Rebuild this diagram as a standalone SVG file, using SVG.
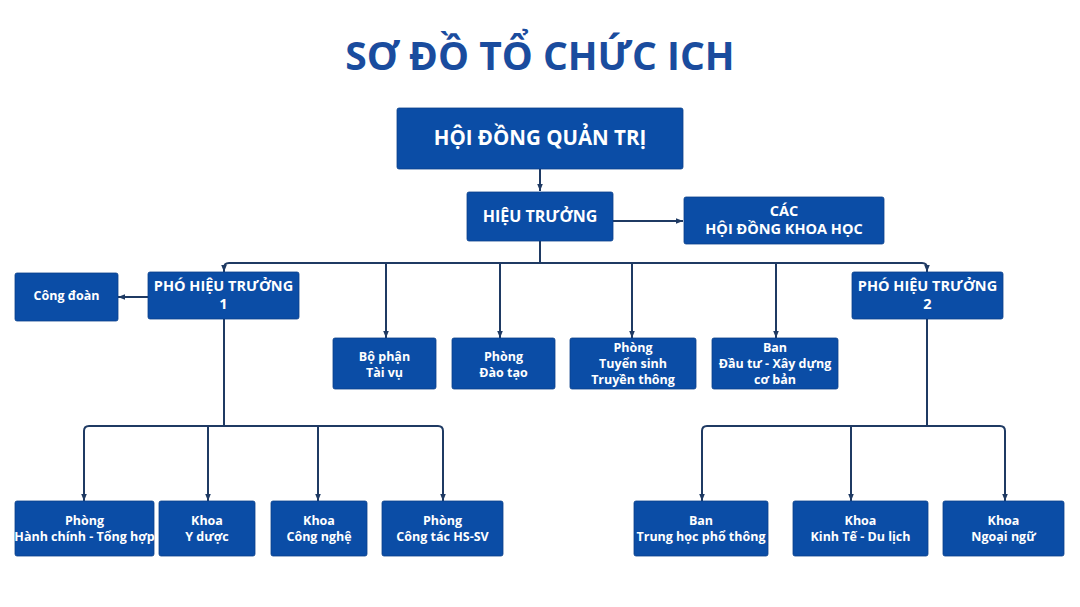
<svg xmlns="http://www.w3.org/2000/svg" width="1080" height="607" viewBox="0 0 1080 607">
<defs>
<style>
.box{fill:#0b4da6;stroke:#0a3f8a;stroke-width:0.8}
.t{font-family:"Open Sans","Liberation Sans",sans-serif;font-weight:700;fill:#ffffff;text-anchor:middle}
.s{font-size:12.5px}
.m{font-size:14.5px}
.c{fill:none;stroke:#1f3a63;stroke-width:2}
</style>
<marker id="ah" viewBox="0 0 10 10" refX="10" refY="5" markerWidth="7" markerHeight="7" markerUnits="userSpaceOnUse" orient="auto">
<path d="M0,1 L10,5 L0,9 z" fill="#1f3a63"/>
</marker>
</defs>
<rect width="1080" height="607" fill="#ffffff"/>
<text x="540" y="70" font-family="'Open Sans','Liberation Sans',sans-serif" font-weight="700" font-size="39" fill="#1a4c9e" text-anchor="middle">SƠ ĐỒ TỔ CHỨC ICH</text>

<g id="connectors">
<path class="c" d="M540,169 V191" marker-end="url(#ah)"/>
<path class="c" d="M613,221 H683" marker-end="url(#ah)"/>
<path class="c" d="M540,241 V263 H229 Q224,263 224,268 V272" marker-end="url(#ah)"/>
<path class="c" d="M540,263 H922 Q927,263 927,268 V272" marker-end="url(#ah)"/>
<path class="c" d="M386,263 V338" marker-end="url(#ah)"/>
<path class="c" d="M500,263 V338" marker-end="url(#ah)"/>
<path class="c" d="M632,263 V338" marker-end="url(#ah)"/>
<path class="c" d="M776,263 V338" marker-end="url(#ah)"/>
<path class="c" d="M148,297 H118" marker-end="url(#ah)"/>
<path class="c" d="M224,319 V426 H89 Q84,426 84,431 V501" marker-end="url(#ah)"/>
<path class="c" d="M224,426 H438 Q443,426 443,431 V501" marker-end="url(#ah)"/>
<path class="c" d="M208,426 V501" marker-end="url(#ah)"/>
<path class="c" d="M318,426 V501" marker-end="url(#ah)"/>
<path class="c" d="M927,319 V426 H707 Q702,426 702,431 V501" marker-end="url(#ah)"/>
<path class="c" d="M927,426 H1000 Q1005,426 1005,431 V501" marker-end="url(#ah)"/>
<path class="c" d="M851,426 V501" marker-end="url(#ah)"/>
</g>

<g id="hdqt"><rect class="box" x="397" y="108" width="286" height="61" rx="2"/><text class="t" x="540" y="145" font-size="20.5">HỘI ĐỒNG QUẢN TRỊ</text></g>
<g id="hieutruong"><rect class="box" x="467" y="192" width="146" height="49" rx="2"/><text class="t" x="540" y="222" font-size="16">HIỆU TRƯỞNG</text></g>
<g id="cac-hdkh"><rect class="box" x="684" y="197" width="200" height="47" rx="2"/><text class="t m" x="784" y="216">CÁC</text><text class="t m" x="784" y="234">HỘI ĐỒNG KHOA HỌC</text></g>
<g id="pht1"><rect class="box" x="148" y="272" width="151" height="47" rx="2"/><text class="t m" x="223.5" y="291">PHÓ HIỆU TRƯỞNG</text><text class="t m" x="223.5" y="309">1</text></g>
<g id="congdoan"><rect class="box" x="15" y="273" width="103" height="48" rx="2"/><text class="t s" x="66.5" y="300">Công đoàn</text></g>
<g id="taivu"><rect class="box" x="333" y="338" width="103" height="51" rx="2"/><text class="t s" x="384.5" y="360.5">Bộ phận</text><text class="t s" x="384.5" y="376.5">Tài vụ</text></g>
<g id="daotao"><rect class="box" x="452" y="338" width="103" height="51" rx="2"/><text class="t s" x="503.5" y="360.5">Phòng</text><text class="t s" x="503.5" y="376.5">Đào tạo</text></g>
<g id="tuyensinh"><rect class="box" x="570" y="338" width="126" height="51" rx="2"/><text class="t s" x="633" y="351.5">Phòng</text><text class="t s" x="633" y="368">Tuyển sinh</text><text class="t s" x="633" y="384">Truyền thông</text></g>
<g id="dautu"><rect class="box" x="712" y="338" width="126" height="51" rx="2"/><text class="t s" x="775" y="351.5">Ban</text><text class="t s" x="775" y="368">Đầu tư - Xây dựng</text><text class="t s" x="775" y="384">cơ bản</text></g>
<g id="pht2"><rect class="box" x="852" y="272" width="151" height="47" rx="2"/><text class="t m" x="927.5" y="291">PHÓ HIỆU TRƯỞNG</text><text class="t m" x="927.5" y="309">2</text></g>
<g id="hcth"><rect class="box" x="15" y="501" width="139" height="55" rx="2"/><text class="t s" x="84.5" y="524.5">Phòng</text><text class="t s" x="84.5" y="540.5">Hành chính - Tổng hợp</text></g>
<g id="yduoc"><rect class="box" x="159" y="501" width="96" height="55" rx="2"/><text class="t s" x="207" y="524.5">Khoa</text><text class="t s" x="207" y="540.5">Y dược</text></g>
<g id="congnghe"><rect class="box" x="271" y="501" width="96" height="55" rx="2"/><text class="t s" x="319" y="524.5">Khoa</text><text class="t s" x="319" y="540.5">Công nghệ</text></g>
<g id="hssv"><rect class="box" x="382" y="501" width="121" height="55" rx="2"/><text class="t s" x="442.5" y="524.5">Phòng</text><text class="t s" x="442.5" y="540.5">Công tác HS-SV</text></g>
<g id="thpt"><rect class="box" x="634" y="501" width="134" height="55" rx="2"/><text class="t s" x="701" y="524.5">Ban</text><text class="t s" x="701" y="540.5">Trung học phổ thông</text></g>
<g id="kinhte"><rect class="box" x="793" y="501" width="135" height="55" rx="2"/><text class="t s" x="860.5" y="524.5">Khoa</text><text class="t s" x="860.5" y="540.5">Kinh Tế - Du lịch</text></g>
<g id="ngoaingu"><rect class="box" x="943" y="501" width="121" height="55" rx="2"/><text class="t s" x="1003.5" y="524.5">Khoa</text><text class="t s" x="1003.5" y="540.5">Ngoại ngữ</text></g>
</svg>
